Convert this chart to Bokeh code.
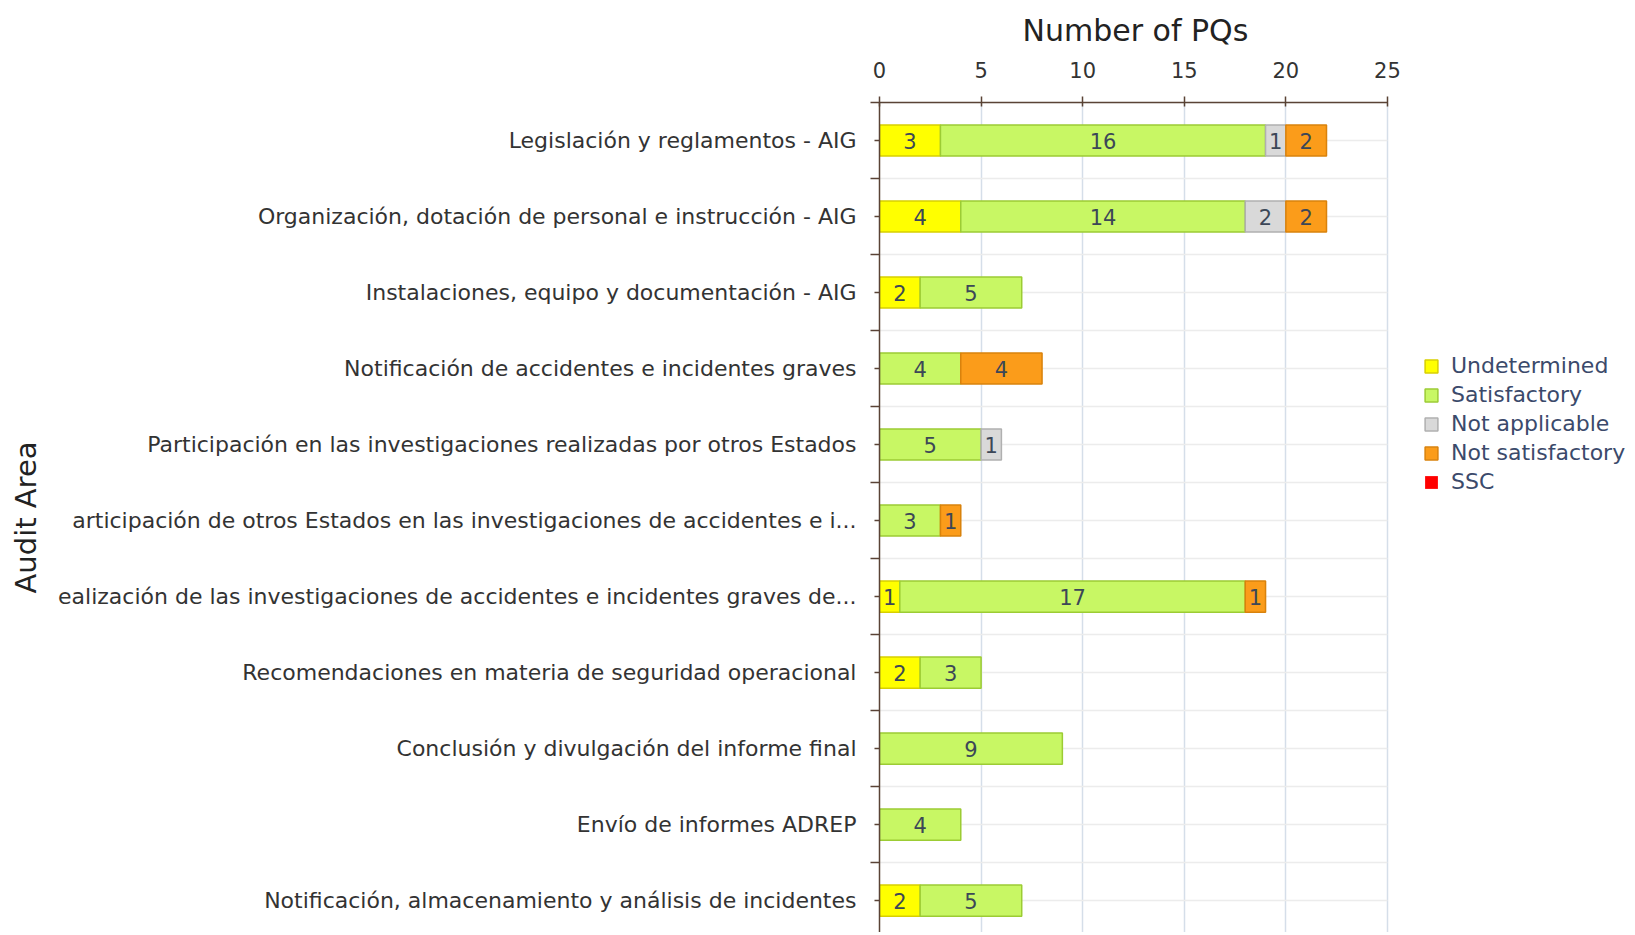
from bokeh.plotting import figure
from bokeh.models import ColumnDataSource, Range1d, FixedTicker, Legend, LegendItem
from bokeh.embed import file_html
from bokeh.resources import INLINE
from bokeh.core.properties import value

categories = [
    "Legislación y reglamentos - AIG",
    "Organización, dotación de personal e instrucción - AIG",
    "Instalaciones, equipo y documentación - AIG",
    "Notificación de accidentes e incidentes graves",
    "Participación en las investigaciones realizadas por otros Estados",
    "articipación de otros Estados en las investigaciones de accidentes e i...",
    "ealización de las investigaciones de accidentes e incidentes graves de...",
    "Recomendaciones en materia de seguridad operacional",
    "Conclusión y divulgación del informe final",
    "Envío de informes ADREP",
    "Notificación, almacenamiento y análisis de incidentes",
]
undetermined = [3, 4, 2, 0, 0, 0, 1, 2, 0, 0, 2]
satisfactory = [16, 14, 5, 4, 5, 3, 17, 3, 9, 4, 5]
not_applicable = [1, 2, 0, 0, 1, 0, 0, 0, 0, 0, 0]
not_satisfactory = [2, 2, 0, 4, 0, 1, 1, 0, 0, 0, 0]
ssc = [0, 0, 0, 0, 0, 0, 0, 0, 0, 0, 0]
series_names = ["Undetermined", "Satisfactory", "Not applicable", "Not satisfactory", "SSC"]
x_ticks = [0, 5, 10, 15, 20, 25]

fill_colors = ["#ffff00", "#c8f764", "#d9d9d9", "#fb9c1a", "#ff0000"]
line_colors = ["#d8cf00", "#9ccc34", "#b0b0b0", "#d9820c", "#ff0000"]

FONT = "DejaVu Sans"
ypos = list(range(len(categories)))
series = [undetermined, satisfactory, not_applicable, not_satisfactory, ssc]
keys = ["u", "s", "na", "ns", "ssc"]
data = {"y": ypos}
for k, s in zip(keys, series):
    data[k] = s
    data[k + "_la"] = [1.0 if v > 0 else 0.0 for v in s]
source = ColumnDataSource(data)

# frame extends right so the legend (inside the frame) is not clipped;
# the axis is bounded to the tick span
p = figure(width=1632, height=932, output_backend="svg", toolbar_location=None,
           x_range=Range1d(0, 37.06), y_range=Range1d(10.42, -0.5),
           x_axis_location="above",
           min_border_left=879, min_border_right=0, min_border_top=102, min_border_bottom=0)
p.outline_line_color = None

# x axis title, centred over the 0-25 span
p.title.text = "Number of PQs"
p.title.align = "left"
p.title.offset = 143
p.title.text_font = FONT
p.title.text_font_size = "30px"
p.title.text_font_style = "normal"
p.title.text_color = "#222222"
p.title.standoff = 21

# horizontal grid lines (row centres and row boundaries), limited to the axis span
gy = [i for i in ypos] + [i - 0.5 for i in ypos] + [len(ypos) - 0.5]
p.segment(x0=[x_ticks[0]] * len(gy), x1=[x_ticks[-1]] * len(gy), y0=gy, y1=gy,
          line_color="#ececec", line_width=1.5)

renderers = p.hbar_stack(keys, y="y", height=0.41, source=source,
                         fill_color=fill_colors, line_color=line_colors,
                         line_alpha=[k + "_la" for k in keys], line_width=1.5)

# segment labels
lx, ly, lt = [], [], []
for i in ypos:
    start = 0
    for s in series:
        v = s[i]
        if v > 0:
            lx.append(start + v / 2)
            ly.append(i)
            lt.append(str(v))
        start += v
p.text(x=lx, y=ly, text=lt, text_align="center", text_baseline="middle",
       text_font=value(FONT), text_font_size="21px", text_color="#3c4757")

AX = "#5a4336"
# x axis (top)
p.xaxis.ticker = FixedTicker(ticks=x_ticks)
p.xaxis.bounds = (x_ticks[0], x_ticks[-1])
p.xaxis.major_label_text_font = FONT
p.xaxis.major_label_text_font_size = "21px"
p.xaxis.major_label_text_color = "#333333"
p.xaxis.major_label_standoff = 19
p.xaxis.axis_line_color = AX
p.xaxis.axis_line_width = 1.5
p.xaxis.major_tick_line_color = AX
p.xaxis.major_tick_line_width = 1.5
p.xaxis.major_tick_out = 6
p.xaxis.major_tick_in = 4
p.xaxis.minor_tick_line_color = None

# y axis (left)
p.yaxis.ticker = FixedTicker(ticks=ypos, minor_ticks=[i - 0.5 for i in ypos] + [len(ypos) - 0.5])
p.yaxis.major_label_overrides = {i: c for i, c in zip(ypos, categories)}
p.yaxis.axis_label = "Audit Area"
p.yaxis.axis_label_text_font = FONT
p.yaxis.axis_label_text_font_size = "29px"
p.yaxis.axis_label_text_font_style = "normal"
p.yaxis.axis_label_text_color = "#222222"
p.yaxis.axis_label_standoff = 12
p.yaxis.major_label_text_font = FONT
p.yaxis.major_label_text_font_size = "22px"
p.yaxis.major_label_text_color = "#333333"
p.yaxis.major_label_standoff = 14
p.yaxis.axis_line_color = AX
p.yaxis.axis_line_width = 1.5
p.yaxis.major_tick_line_color = AX
p.yaxis.major_tick_line_width = 1.5
p.yaxis.major_tick_out = 5
p.yaxis.major_tick_in = 0
p.yaxis.minor_tick_line_color = AX
p.yaxis.minor_tick_line_width = 1.5
p.yaxis.minor_tick_out = 9
p.yaxis.minor_tick_in = 0

# grids
p.xgrid.grid_line_color = "#d5dee9"
p.xgrid.grid_line_width = 1.5
p.ygrid.visible = False

legend = Legend(items=[LegendItem(label=n, renderers=[r]) for n, r in zip(series_names, renderers)],
                location=(544, 438), border_line_color=None, background_fill_alpha=0,
                padding=0, margin=0, glyph_width=16, glyph_height=16, spacing=4,
                label_standoff=12, label_text_font=FONT, label_text_font_size="22px",
                label_text_color="#3b4a6b")
p.add_layout(legend)

open("out.html", "w").write(file_html(p, INLINE))
